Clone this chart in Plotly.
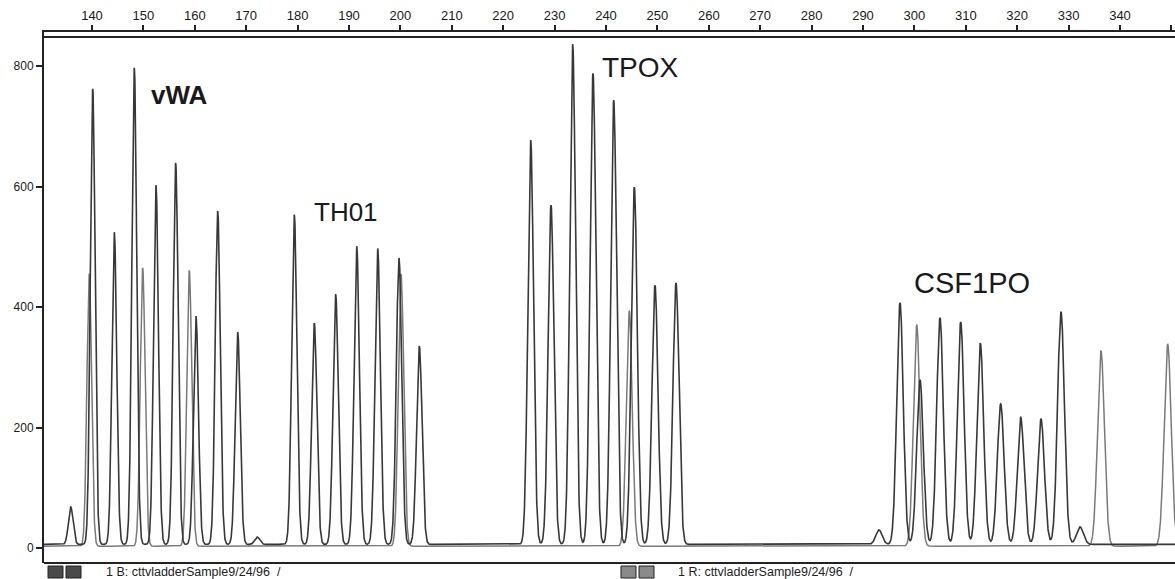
import numpy as np
import plotly.graph_objects as go

# ---------------- data ----------------
# Channel 1B (dark trace): allelic ladder peaks, size (bp) and height (RFU)
b_sizes = [135.86, 140.14, 144.34, 148.23, 152.45, 156.28, 160.23, 164.46, 168.35, 172.16,
           179.36, 183.25, 187.41, 191.50, 195.58, 199.73, 203.68,
           225.35, 229.30, 233.52, 237.47, 241.50, 245.51, 249.53, 253.62,
           293.11, 297.20, 301.09, 304.98, 309.01, 312.82, 316.79, 320.68, 324.63, 328.52, 332.22]
b_heights = [68, 762, 524, 797, 602, 639, 385, 559, 358, 18,
             553, 373, 421, 501, 497, 481, 335,
             677, 569, 836, 788, 743, 599, 436, 440,
             30, 407, 279, 382, 375, 340, 239, 217, 214, 392, 35]

# Channel 1R (light trace): size-standard peaks
r_sizes = [139.47, 149.86, 158.93, 200.12, 244.53, 300.45, 336.30, 349.28]
r_heights = [455, 465, 461, 455, 393, 370, 327, 338]

locus_names = ["vWA", "TH01", "TPOX", "CSF1PO"]
x_ticks = list(range(140, 351, 10))
y_ticks = [0, 200, 400, 600, 800]
lane_labels = ["1 B: cttvladderSample9/24/96\u00a0\u00a0/", "1 R: cttvladderSample9/24/96\u00a0\u00a0/"]

# ---------------- build traces ----------------
x = np.arange(130.6, 351.0, 0.03)


def electropherogram(sizes, heights, base):
    y = np.full_like(x, base, dtype=float)
    for p, h in zip(sizes, heights):
        s = 0.46 + 0.0011 * (p - 140)
        y += (h - base) * np.exp(-0.5 * ((x - p) / s) ** 2)
    return y


y_b = electropherogram(b_sizes, b_heights, 6)
y_r = electropherogram(r_sizes, r_heights, 3)

fig = go.Figure()
fig.add_trace(go.Scatter(x=x, y=y_r, mode="lines", line=dict(color="#7a7a7a", width=1.5),
                         name="1R", hoverinfo="skip"))
fig.add_trace(go.Scatter(x=x, y=y_b, mode="lines", line=dict(color="#383838", width=1.6),
                         name="1B", hoverinfo="skip"))

W, H = 1175, 579
L, R, T, B = 44, 0, 32, 16
pw, ph = W - L - R, H - T - B
px_per_bp = 5.14
x0 = 140 - (92 - L) / px_per_bp
x1 = x0 + pw / px_per_bp
y_zero_px = 548
px_per_unit = 0.6025
y0 = -(T + ph - y_zero_px) / px_per_unit
y1 = (y_zero_px - T) / px_per_unit

font_family = "Liberation Sans, Arial, sans-serif"

fig.update_layout(
    width=W, height=H,
    margin=dict(l=L, r=R, t=T, b=B, pad=0),
    paper_bgcolor="white", plot_bgcolor="white",
    showlegend=False,
    xaxis=dict(range=[x0, x1], side="top", tickmode="array", tickvals=x_ticks,
               ticks="outside", ticklen=5, tickwidth=1.5, tickcolor="#222",
               showline=True, linecolor="#222", linewidth=2,
               showgrid=False, zeroline=False,
               tickfont=dict(family=font_family, size=13, color="#1a1a1a")),
    yaxis=dict(range=[y0, y1], tickmode="array", tickvals=y_ticks,
               ticks="outside", ticklen=6, tickwidth=1.5, tickcolor="#222",
               showline=True, linecolor="#222", linewidth=2,
               showgrid=False, zeroline=False,
               tickfont=dict(family=font_family, size=12, color="#1a1a1a")),
)

# frame lines: second top line and bottom line
fig.add_shape(type="line", xref="paper", yref="paper", x0=0, x1=1,
              y0=1 - 5 / ph, y1=1 - 5 / ph, line=dict(color="#222", width=2))
fig.add_shape(type="line", xref="paper", yref="paper", x0=0, x1=1,
              y0=0, y1=0, line=dict(color="#222", width=2))

# locus labels
label_pos = [(157.0, 752, 26, True), (189.4, 558, 26, False),
             (246.75, 798, 28, False), (311.3, 440, 29, False)]
for name, (lx, ly, fs, bold) in zip(locus_names, label_pos):
    fig.add_annotation(x=lx, y=ly, xref="x", yref="y", showarrow=False,
                       text=f"<b>{name}</b>" if bold else name,
                       font=dict(family=font_family, size=fs, color="#1a1a1a"))


def px2paper_x(px):
    return (px - L) / pw


def py2paper_y(py):
    return (T + ph - py) / ph


# lane icons + lane labels
icon_sets = [((48, 63), (66, 81), "#4a4a4a"), ((621, 636), (639, 654), "#8a8a8a")]
text_x = [104, 676]
for (a, b, col), tx, lab in zip(icon_sets, text_x, lane_labels):
    for (ix0, ix1) in (a, b):
        fig.add_shape(type="rect", xref="paper", yref="paper",
                      x0=px2paper_x(ix0), x1=px2paper_x(ix1),
                      y0=py2paper_y(578), y1=py2paper_y(566),
                      fillcolor=col, line=dict(color="#222", width=1))
    fig.add_annotation(x=px2paper_x(tx), y=py2paper_y(572), xref="paper", yref="paper",
                       xanchor="left", yanchor="middle", showarrow=False, text=lab,
                       font=dict(family=font_family, size=12.5, color="#222"))

fig.write_html("out.html", config={"displayModeBar": False},
               post_script="document.body.style.margin='0';document.body.style.overflow='hidden';")
